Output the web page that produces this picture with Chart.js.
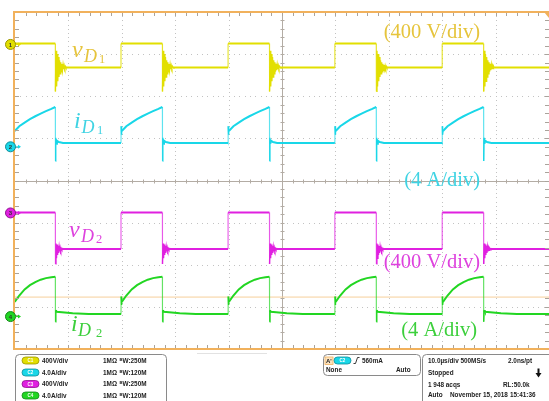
<!DOCTYPE html>
<html>
<head>
<meta charset="utf-8">
<script src="https://cdn.jsdelivr.net/npm/chart.js@4.4.1/dist/chart.umd.min.js"></script>
<style>
  html, body { margin: 0; padding: 0; background: #fff; overflow: hidden; }
  canvas { display: block; }
</style>
</head>
<body>
<canvas id="scope" width="549" height="401"></canvas>
<script>
// ---- Acquisition: 10 µs/div, 10 divisions ----
const timeSpan = [0, 100];                          // µs across the screen
const cycleStarts = [-0.2, 19.85, 39.9, 59.9, 80.0]; // instants where v_D steps up (µs)

// Vertical settings per channel: units per division and ground marker (div above centre)
const channelScale  = [400, 4, 400, 4];
const channelOffset = [3.23, 0.8, -0.77, -3.23];

// One switching cycle of each waveform, time measured from the step-up edge (µs)
const vD1Time  = [0, 7.75, 7.77, 7.88, 7.99, 8.10, 8.21, 8.32, 8.43, 8.54, 8.65, 8.76, 8.87, 8.98, 9.09, 9.20, 9.31, 9.42, 9.53, 9.64, 9.75, 9.90];
const vD1Volts = [10, 10, -446, -60, -400, -90, -350, -120, -310, -150, -280, -170, -260, -185, -245, -195, -235, -203, -228, -210, -222, -218];

const iD1Time  = [0, 0.03, 0.08, 0.15, 1, 2, 3, 4, 5, 6, 7, 7.75, 7.77, 7.83, 7.90, 8.05, 8.4, 9.2];
const iD1Amps  = [0.35, 1.95, 1.15, 1.5, 1.95, 2.3, 2.62, 2.9, 3.15, 3.38, 3.6, 3.78, -1.35, 0.85, 0.3, 0.58, 0.45, 0.37];

const vD2Time  = [0, 7.75, 7.77, 7.87, 7.97, 8.07, 8.17, 8.27, 8.37, 8.47, 8.57, 8.67, 8.77, 8.87, 8.97, 9.10, 9.30];
const vD2Volts = [5, 5, -484, -290, -430, -300, -400, -315, -380, -325, -365, -332, -355, -337, -348, -341, -342];

const iD2Time  = [0, 0.03, 0.08, 0.15, 1, 2, 3, 4, 5, 6, 7, 7.75, 7.77, 7.85, 8.0, 9, 11, 14];
const iD2Amps  = [0.2, 1.9, 1.1, 1.4, 2.0, 2.58, 2.98, 3.28, 3.5, 3.65, 3.74, 3.78, -0.5, 0.6, 0.45, 0.4, 0.32, 0.25];

const triggerLevel = 1.85; // A, drawn on channel 4

// Repeat one cycle at every recorded step-up instant, holding the last value until the next one
function buildTrace(times, values) {
  const pts = [];
  cycleStarts.forEach((t0, k) => {
    const next = k + 1 < cycleStarts.length ? cycleStarts[k + 1] : timeSpan[1];
    times.forEach((t, i) => pts.push({ x: t0 + t, y: values[i] }));
    pts.push({ x: next, y: values[values.length - 1] });
  });
  return pts;
}

const traceColor = ['#e2df00', '#19d7e8', '#e020e0', '#22d622'];
const edgeColor  = ['rgba(226,223,0,0.85)', 'rgba(25,215,232,0.7)', 'rgba(224,32,224,0.75)', 'rgba(34,214,34,0.7)'];
const labelColor = ['#e6c43c', '#3fd3e3', '#de42de', '#3ccf3c'];
const markerEdge = ['#9a9600', '#0e8d99', '#8f1090', '#14861a'];

function axisFor(ch) {
  const s = channelScale[ch], p = channelOffset[ch];
  return { type: 'linear', display: false, min: (-4 - p) * s, max: (4 - p) * s };
}

// Graticule: dotted divisions and the centre cross with minor ticks
const graticule = {
  id: 'graticule',
  beforeDatasetsDraw(chart) {
    const { ctx, chartArea: a } = chart;
    const dx = (a.right - a.left) / 10, dy = (a.bottom - a.top) / 8;
    ctx.save();
    ctx.fillStyle = '#c2c2c2';
    for (let i = 1; i < 10; i++) {
      if (i === 5) continue;
      const x = Math.round(a.left + i * dx);
      for (let k = 1; k < 80; k++) ctx.fillRect(x, Math.round(a.top + k * dy / 10), 1, 1);
    }
    for (let j = 1; j < 8; j++) {
      if (j === 4) continue;
      const y = Math.round(a.top + j * dy);
      for (let k = 1; k < 100; k++) ctx.fillRect(Math.round(a.left + k * dx / 10), y, 1, 1);
    }
    const cx = Math.round(a.left + 5 * dx) + 0.5, cy = Math.round(a.top + 4 * dy) + 0.5;
    ctx.strokeStyle = '#b3aca4';
    ctx.lineWidth = 1;
    ctx.beginPath();
    ctx.moveTo(cx, a.top); ctx.lineTo(cx, a.bottom);
    ctx.moveTo(a.left, cy); ctx.lineTo(a.right, cy);
    for (let k = 1; k < 50; k++) {
      const x = Math.round(a.left + k * dx / 5) + 0.5;
      ctx.moveTo(x, cy - 2); ctx.lineTo(x, cy + 2);
    }
    for (let k = 1; k < 40; k++) {
      const y = Math.round(a.top + k * dy / 5) + 0.5;
      ctx.moveTo(cx - 2, y); ctx.lineTo(cx + 2, y);
    }
    ctx.stroke();
    ctx.restore();
  },
  afterDatasetsDraw(chart) {
    const { ctx, chartArea: a } = chart;
    const dx = (a.right - a.left) / 10, dy = (a.bottom - a.top) / 8;
    ctx.save();
    // border ticks
    ctx.strokeStyle = '#aaa39b';
    ctx.lineWidth = 1;
    ctx.beginPath();
    for (let k = 1; k < 50; k++) {
      const x = Math.round(a.left + k * dx / 5) + 0.5;
      ctx.moveTo(x, a.top); ctx.lineTo(x, a.top + 4);
      ctx.moveTo(x, a.bottom); ctx.lineTo(x, a.bottom - 4);
    }
    for (let k = 1; k < 40; k++) {
      const y = Math.round(a.top + k * dy / 5) + 0.5;
      ctx.moveTo(a.left, y); ctx.lineTo(a.left + 4, y);
      ctx.moveTo(a.right, y); ctx.lineTo(a.right - 4, y);
    }
    ctx.stroke();
    // orange frame
    ctx.fillStyle = '#f1b15c';
    ctx.fillRect(a.left - 2, a.top - 1, 2, a.bottom - a.top + 2);
    ctx.fillRect(a.left - 2, a.top - 1, a.right - a.left + 2, 2);
    ctx.fillRect(a.left - 2, a.bottom - 1, a.right - a.left + 2, 2);
    // trigger position marker
    ctx.beginPath();
    ctx.moveTo(a.right - 5, a.top); ctx.lineTo(a.right, a.top); ctx.lineTo(a.right, a.top + 6);
    ctx.closePath(); ctx.fill();

    // channel ground markers
    ['y1', 'y2', 'y3', 'y4'].forEach((id, ch) => {
      const y = chart.scales[id].getPixelForValue(0);
      ctx.strokeStyle = traceColor[ch];
      ctx.fillStyle = traceColor[ch];
      ctx.lineWidth = 1;
      ctx.beginPath(); ctx.moveTo(16, y); ctx.lineTo(20, y); ctx.stroke();
      ctx.beginPath(); ctx.moveTo(21, y); ctx.lineTo(18, y - 2); ctx.lineTo(18, y + 2); ctx.closePath(); ctx.fill();
      ctx.beginPath(); ctx.arc(10.5, y, 5, 0, Math.PI * 2);
      ctx.fillStyle = traceColor[ch]; ctx.fill();
      ctx.strokeStyle = markerEdge[ch]; ctx.stroke();
      ctx.fillStyle = '#333';
      ctx.font = 'bold 6px "Liberation Sans"';
      ctx.textAlign = 'center'; ctx.textBaseline = 'middle';
      ctx.fillText(String(ch + 1), 10.5, y + 0.5);
    });

    // waveform names
    const sym = (color, main, mx, my, sub, sx, sy, idx, ix, iy) => {
      ctx.fillStyle = color;
      ctx.textAlign = 'left'; ctx.textBaseline = 'alphabetic';
      ctx.font = 'italic 24px "Liberation Serif"'; ctx.fillText(main, mx, my);
      ctx.font = 'italic 18px "Liberation Serif"'; ctx.fillText(sub, sx, sy);
      ctx.font = '12.5px "Liberation Serif"'; ctx.fillText(idx, ix, iy);
    };
    sym(labelColor[0], 'v', 72, 57, 'D', 84, 61.5, '1', 99, 62.5);
    sym(labelColor[1], 'i', 74, 128, 'D', 81.5, 133, '1', 97, 134);
    sym(labelColor[2], 'v', 69, 236.5, 'D', 81, 242, '2', 96, 243);
    sym(labelColor[3], 'i', 71, 331, 'D', 78, 336, '2', 96, 337);

    // vertical sensitivities
    ctx.font = '20.5px "Liberation Serif"';
    ctx.textAlign = 'right';
    ctx.fillStyle = labelColor[0]; ctx.fillText('(400 V/div)', 480, 37.5);
    ctx.fillStyle = labelColor[1]; ctx.fillText('(4 A/div)', 480, 186);
    ctx.fillStyle = labelColor[2]; ctx.fillText('(400 V/div)', 480, 267.5);
    ctx.fillStyle = labelColor[3]; ctx.fillText('(4 A/div)', 477, 336);
    ctx.restore();
  }
};

// Status readout below the graticule
const readout = {
  id: 'readout',
  afterDraw(chart) {
    const ctx = chart.ctx;
    ctx.save();
    const box = (x, y, w, h) => {
      ctx.beginPath(); ctx.roundRect(x, y, w, h, 4);
      ctx.strokeStyle = '#8a8a8a'; ctx.lineWidth = 1; ctx.stroke();
    };
    const pill = (x, yc, w, fill, edge, label) => {
      ctx.beginPath(); ctx.roundRect(x, yc - 3.5, w, 7, 3.5);
      ctx.fillStyle = fill; ctx.fill();
      ctx.strokeStyle = edge; ctx.lineWidth = 0.8; ctx.stroke();
      ctx.fillStyle = '#fff'; ctx.font = 'bold 4.5px "Liberation Sans"';
      ctx.textAlign = 'center'; ctx.textBaseline = 'middle';
      ctx.fillText(label, x + w / 2, yc + 0.3);
      ctx.textAlign = 'left'; ctx.textBaseline = 'alphabetic';
    };
    const txt = (s, x, y) => { ctx.fillText(s, x, y); return x + ctx.measureText(s).width; };

    ctx.strokeStyle = '#e2e2e2'; ctx.lineWidth = 1;
    ctx.beginPath(); ctx.moveTo(197, 353.5); ctx.lineTo(267, 353.5); ctx.stroke();

    box(15.5, 354.5, 151, 60);
    box(323.5, 354.5, 97, 21);
    box(422.5, 354.5, 140, 60);

    const rows = [
      ['C1', '400V/div', '250M'],
      ['C2', '4.0A/div', '120M'],
      ['C3', '400V/div', '250M'],
      ['C4', '4.0A/div', '120M']
    ];
    const rowY = [360.5, 372.5, 384, 395.5];
    rows.forEach((r, i) => {
      pill(22, rowY[i], 17, traceColor[i], markerEdge[i], r[0]);
      ctx.fillStyle = '#222';
      ctx.font = 'bold 6.4px "Liberation Sans"';
      ctx.textAlign = 'left'; ctx.textBaseline = 'alphabetic';
      const base = rowY[i] + 2.4;
      txt(r[1], 42, base);
      let x = txt('1MΩ', 103, base) + 2.5;
      ctx.font = 'bold 4.2px "Liberation Sans"';
      x = txt('B', x, base - 2.2);
      ctx.font = 'bold 6.4px "Liberation Sans"';
      txt('W:' + r[2], x, base);
    });

    // trigger box
    ctx.fillStyle = '#fbe3c0';
    ctx.fillRect(325, 357, 8, 7.5);
    ctx.strokeStyle = '#f1b15c'; ctx.lineWidth = 0.8; ctx.strokeRect(325, 357, 8, 7.5);
    ctx.fillStyle = '#222'; ctx.font = 'bold 6px "Liberation Sans"';
    ctx.textAlign = 'left'; ctx.textBaseline = 'alphabetic';
    txt("A'", 326, 363);
    pill(334, 360.5, 17, traceColor[1], markerEdge[1], 'C2');
    ctx.strokeStyle = '#222'; ctx.lineWidth = 0.9;
    ctx.beginPath(); ctx.moveTo(353.5, 363.5); ctx.lineTo(355.5, 363.5); ctx.lineTo(357.5, 357.5); ctx.lineTo(359.5, 357.5); ctx.stroke();
    ctx.fillStyle = '#222'; ctx.font = 'bold 6.4px "Liberation Sans"';
    txt('560mA', 362, 363);
    txt('None', 326, 372);
    txt('Auto', 396, 372);

    // timebase box
    txt('10.0µs/div 500MS/s', 428, 363);
    txt('2.0ns/pt', 508, 363);
    txt('Stopped', 428, 374.5);
    txt('1 948 acqs', 428, 386.5);
    txt('RL:50.0k', 503, 386.5);
    txt('Auto', 428, 397);
    txt('November 15, 2018', 450, 397);
    txt('15:41:36', 510, 397);
    ctx.fillStyle = '#111';
    ctx.fillRect(537.5, 368.5, 2, 5);
    ctx.beginPath(); ctx.moveTo(535.5, 373); ctx.lineTo(541.5, 373); ctx.lineTo(538.5, 377.5); ctx.closePath(); ctx.fill();
    ctx.restore();
  }
};

// Step edges are drawn thin and slightly pale; the ringing stays at full colour
const trace = (data, ch, axis) => ({
  data, yAxisID: axis, borderColor: traceColor[ch], borderWidth: 2,
  pointRadius: 0, tension: 0, fill: false, order: 1,
  segment: {
    borderWidth: c => {
      const dt = Math.abs(c.p1.parsed.x - c.p0.parsed.x);
      return dt < 0.035 ? 1.1 : dt < 0.12 ? 1.4 : 2;
    },
    borderColor: c => (Math.abs(c.p1.parsed.x - c.p0.parsed.x) < 0.035 ? edgeColor[ch] : traceColor[ch])
  }
});

new Chart(document.getElementById('scope'), {
  type: 'line',
  data: {
    datasets: [
      trace(buildTrace(vD1Time, vD1Volts), 0, 'y1'),
      trace(buildTrace(iD1Time, iD1Amps), 1, 'y2'),
      trace(buildTrace(vD2Time, vD2Volts), 2, 'y3'),
      trace(buildTrace(iD2Time, iD2Amps), 3, 'y4'),
      {
        data: [{ x: timeSpan[0], y: triggerLevel }, { x: timeSpan[1], y: triggerLevel }],
        yAxisID: 'y4', borderColor: '#f6cf9a', borderWidth: 1,
        pointRadius: 0, fill: false, order: 5
      }
    ]
  },
  options: {
    responsive: false,
    animation: false,
    devicePixelRatio: 1,
    layout: { padding: { left: 15, right: 0, top: 12, bottom: 52 } },
    scales: {
      x: { type: 'linear', display: false, min: timeSpan[0], max: timeSpan[1] },
      y1: axisFor(0),
      y2: axisFor(1),
      y3: axisFor(2),
      y4: axisFor(3)
    },
    plugins: { legend: { display: false }, tooltip: { enabled: false } }
  },
  plugins: [graticule, readout]
});
</script>
</body>
</html>
